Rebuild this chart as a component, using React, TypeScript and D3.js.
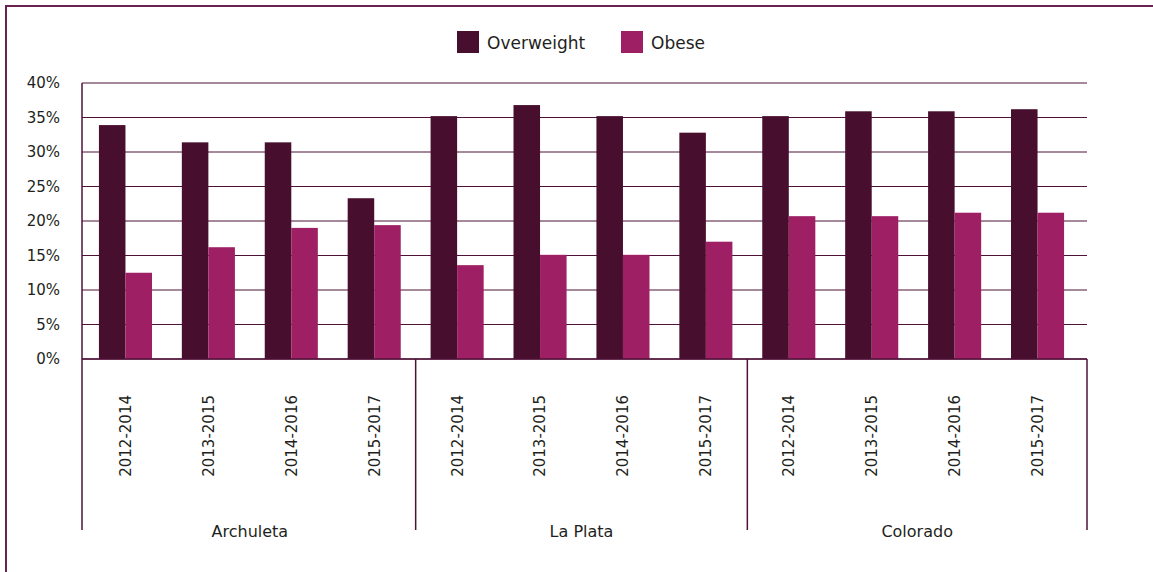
import React from "react";
import * as d3 from "d3";

const groups = ["Archuleta", "La Plata", "Colorado"];
const periods = ["2012-2014", "2013-2015", "2014-2016", "2015-2017"];
const seriesNames = ["Overweight", "Obese"];
const overweight = [33.9, 31.4, 31.4, 23.3, 35.2, 36.8, 35.2, 32.8, 35.2, 35.9, 35.9, 36.2];
const obese = [12.5, 16.2, 19.0, 19.4, 13.6, 15.1, 15.1, 17.0, 20.7, 20.7, 21.2, 21.2];
const yTicks = [0, 5, 10, 15, 20, 25, 30, 35, 40];
const colors = ["#470e2e", "#9e1f63"];

const W = 1153;
const H = 572;
const plotLeft = 82;
const plotRight = 1087;
const barsLeft = 84;
const barsRight = 1079;
const yTop = 83;
const yBottom = 359;
const sepBottom = 530;
const FONT = "'DejaVu Sans', sans-serif";
const TEXT = "#231f20";
const AXIS = "#4e1238";

export default function App() {
  const n = groups.length * periods.length;
  const idx = d3.range(n);
  const x = d3.scaleBand<number>().domain(idx).range([barsLeft, barsRight]).paddingInner(0.36).paddingOuter(0.18);
  const xs = d3.scaleBand<string>().domain(seriesNames).range([0, x.bandwidth()]);
  const y = d3.scaleLinear().domain([0, 40]).range([yBottom, yTop]);
  const step = x.step();
  const groupStart = (g: number) => barsLeft + g * periods.length * step;
  const seps = [plotLeft, groupStart(1), groupStart(2), plotRight];
  const values = [overweight, obese];

  return (
    <svg width={W} height={H} style={{ position: "absolute", left: 0, top: 0, background: "#fff" }}>
      <rect x={6} y={6} width={W + 20} height={H + 20} fill="#fff" stroke="#6a2250" strokeWidth={2} />
      {/* legend */}
      {seriesNames.map((s, i) => {
        const lx = [457, 621][i];
        return (
          <g key={s}>
            <rect x={lx} y={31} width={22} height={22} fill={colors[i]} />
            <text x={lx + 30} y={49} fontFamily={FONT} fontSize={17} fill={TEXT}>{s}</text>
          </g>
        );
      })}
      {/* gridlines */}
      {yTicks.map((t) => (
        <line key={t} x1={plotLeft} x2={plotRight} y1={y(t)} y2={y(t)} stroke={AXIS} strokeWidth={1} />
      ))}
      {yTicks.map((t) => (
        <text key={"l" + t} x={60} y={y(t)} dy="0.36em" textAnchor="end" fontFamily={FONT} fontSize={15} fill={TEXT}>
          {t + "%"}
        </text>
      ))}
      {/* bars */}
      {idx.map((i) => (
        <g key={"b" + i}>
          {seriesNames.map((s, k) => (
            <rect
              key={s}
              x={(x(i) as number) + (xs(s) as number)}
              y={y(values[k][i])}
              width={xs.bandwidth()}
              height={yBottom - y(values[k][i])}
              fill={colors[k]}
            />
          ))}
        </g>
      ))}
      {/* axes */}
      <line x1={plotLeft} x2={plotLeft} y1={yTop} y2={yBottom} stroke={AXIS} strokeWidth={1.5} />
      <line x1={plotLeft} x2={plotRight} y1={yBottom} y2={yBottom} stroke={AXIS} strokeWidth={1.5} />
      {seps.map((sx, i) => (
        <line key={"s" + i} x1={sx} x2={sx} y1={yBottom} y2={sepBottom} stroke={AXIS} strokeWidth={1.5} />
      ))}
      {/* category labels */}
      {idx.map((i) => {
        const cx = (x(i) as number) + x.bandwidth() / 2;
        return (
          <text
            key={"c" + i}
            transform={`translate(${cx},395) rotate(-90)`}
            dy="0.36em"
            textAnchor="end"
            fontFamily={FONT}
            fontSize={15}
            fill={TEXT}
          >
            {periods[i % periods.length]}
          </text>
        );
      })}
      {groups.map((g, gi) => {
        const a = gi === 0 ? barsLeft : groupStart(gi);
        const b = gi === groups.length - 1 ? plotRight : groupStart(gi + 1);
        return (
          <text key={g} x={(a + b) / 2} y={537} textAnchor="middle" fontFamily={FONT} fontSize={16} fill={TEXT}>
            {g}
          </text>
        );
      })}
    </svg>
  );
}
